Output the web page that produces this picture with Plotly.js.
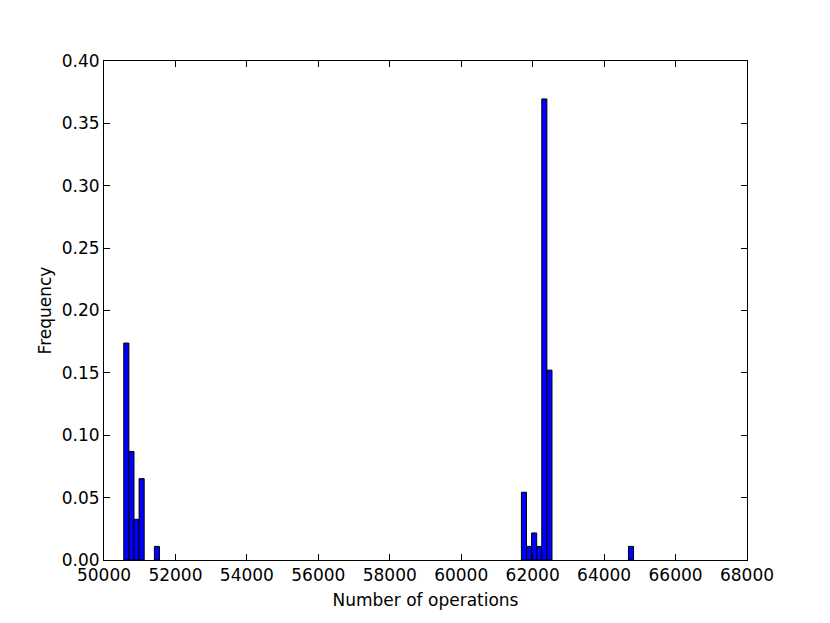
<!DOCTYPE html>
<html>
<head>
<meta charset="utf-8">
<script src="https://cdn.plot.ly/plotly-3.0.1.min.js"></script>
<style>html,body{margin:0;padding:0;background:#fff;}#chart{width:830px;height:623px;}</style>
</head>
<body>
<div id="chart"></div>
<script>
// Histogram bin centers (Number of operations) and frequencies
const binCenters = [50625.4, 50768.1, 50910.8, 51053.5, 51481.6,
                    61756.0, 61898.7, 62041.4, 62184.1, 62326.8, 62469.5,
                    64752.7];
const frequencies = [0.1739, 0.0870, 0.0326, 0.0652, 0.0109,
                     0.0543, 0.0109, 0.0217, 0.0109, 0.3696, 0.1522,
                     0.0109];
const binWidth = 142.7;
const xTicks = [50000, 52000, 54000, 56000, 58000, 60000, 62000, 64000, 66000, 68000];
const yTicks = [0.00, 0.05, 0.10, 0.15, 0.20, 0.25, 0.30, 0.35, 0.40];

const trace = {
  type: 'bar',
  x: binCenters,
  y: frequencies,
  width: binCenters.map(() => binWidth),
  marker: {color: '#0000ff', line: {color: '#000000', width: 1}},
  hoverinfo: 'x+y'
};

const fontFam = 'DejaVu Sans, sans-serif';
const layout = {
  width: 830, height: 623,
  margin: {l: 104, r: 83, t: 61, b: 62.5, pad: 0},
  paper_bgcolor: '#ffffff', plot_bgcolor: '#ffffff',
  font: {family: fontFam, size: 17, color: '#000000'},
  showlegend: false,
  bargap: 0,
  xaxis: {
    range: [50000, 68000],
    tickvals: xTicks,
    ticktext: xTicks.map(v => String(v)),
    ticks: 'inside', ticklen: 6, tickwidth: 1, tickcolor: '#000',
    mirror: 'ticks', showline: true, linecolor: '#000', linewidth: 1,
    showgrid: false, zeroline: false,
    tickfont: {family: fontFam, size: 17},
    title: {text: 'Number of operations', font: {family: fontFam, size: 17}, standoff: 9}
  },
  yaxis: {
    range: [0, 0.40],
    tickvals: yTicks,
    ticktext: yTicks.map(v => v.toFixed(2)),
    ticks: 'inside', ticklen: 6, tickwidth: 1, tickcolor: '#000',
    mirror: 'ticks', showline: true, linecolor: '#000', linewidth: 1,
    showgrid: false, zeroline: false,
    tickfont: {family: fontFam, size: 17},
    title: {text: 'Frequency', font: {family: fontFam, size: 17}, standoff: 5}
  }
};

Plotly.newPlot('chart', [trace], layout, {displayModeBar: false, staticPlot: true});
</script>
</body>
</html>
